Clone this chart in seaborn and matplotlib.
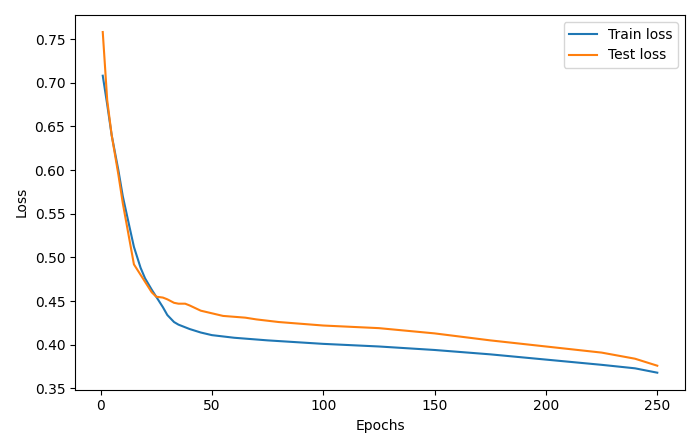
import matplotlib
matplotlib.use("Agg")
import matplotlib.pyplot as plt
import pandas as pd
import seaborn as sns

# Values
train_epochs = [1, 3, 5, 8, 10, 13, 15, 18, 20, 23, 25, 28, 30, 33, 35, 40, 45, 50, 60,
                75, 100, 125, 150, 175, 200, 225, 240, 250]
train_loss = [0.708, 0.675, 0.640, 0.600, 0.570, 0.535, 0.512, 0.488, 0.476, 0.463, 0.455,
              0.443, 0.434, 0.426, 0.423, 0.418, 0.414, 0.411, 0.408, 0.405, 0.401,
              0.398, 0.394, 0.389, 0.383, 0.377, 0.373, 0.368]

test_epochs = [1, 3, 5, 8, 10, 13, 15, 18, 20, 23, 25, 28, 30, 33, 35, 38, 40, 45, 50, 55,
               60, 65, 70, 80, 100, 125, 150, 175, 200, 225, 240, 250]
test_loss = [0.758, 0.680, 0.640, 0.595, 0.562, 0.520, 0.492, 0.480, 0.472, 0.460, 0.455,
             0.454, 0.452, 0.448, 0.447, 0.447, 0.445, 0.439, 0.436, 0.433, 0.432,
             0.431, 0.429, 0.426, 0.422, 0.419, 0.413, 0.405, 0.398, 0.391, 0.384, 0.376]

df = pd.concat([
    pd.DataFrame({"Epochs": train_epochs, "Loss": train_loss, "series": "Train loss"}),
    pd.DataFrame({"Epochs": test_epochs, "Loss": test_loss, "series": "Test loss"}),
])

fig, ax = plt.subplots(figsize=(7, 4.48), dpi=100)
sns.lineplot(data=df, x="Epochs", y="Loss", hue="series",
             palette=["#1f77b4", "#ff7f0e"], ax=ax)
ax.legend(title=None, loc="upper right")
ax.set_xlabel("Epochs")
ax.set_ylabel("Loss")
ax.set_xticks([0, 50, 100, 150, 200, 250])
ax.set_yticks([0.35, 0.40, 0.45, 0.50, 0.55, 0.60, 0.65, 0.70, 0.75])
plt.tight_layout()
plt.savefig("out.png", dpi=100)
